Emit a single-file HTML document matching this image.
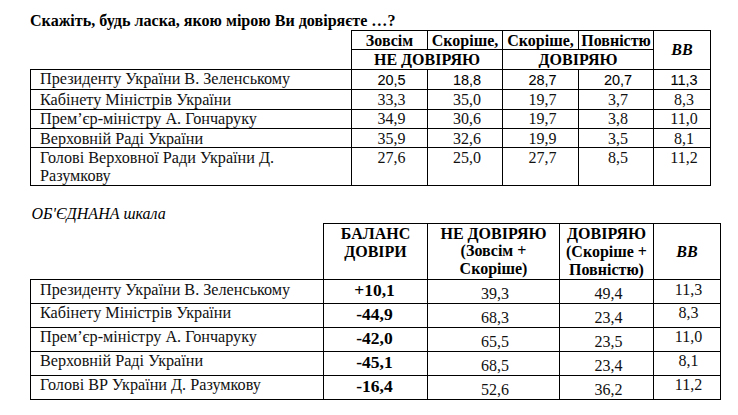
<!DOCTYPE html>
<html><head><meta charset="utf-8"><style>
html,body{margin:0;padding:0;background:#fff;width:738px;height:415px;overflow:hidden;position:relative}
.l{position:absolute;background:#000}
.t{position:absolute;white-space:nowrap;line-height:20px;height:20px;color:#000}
.c{text-align:center}
.s{font-family:"Liberation Serif",serif;font-size:16px}
.f{font-family:"Liberation Sans",sans-serif;font-size:14.5px;-webkit-text-stroke:0.06px #000}
.r{color:#111}
.b{font-weight:bold;color:#000}
.i{font-style:italic}
.clip{height:18px;overflow:hidden}
.big{font-size:17.5px}
.lb{font-size:16.2px;color:#111}
.tt{font-size:16.1px}
</style></head><body>
<div class="l" style="left:351px;top:30px;width:360px;height:1px"></div>
<div class="l" style="left:351px;top:49px;width:303px;height:1px"></div>
<div class="l" style="left:30px;top:69px;width:681px;height:1px"></div>
<div class="l" style="left:30px;top:89px;width:681px;height:1px"></div>
<div class="l" style="left:30px;top:109px;width:681px;height:1px"></div>
<div class="l" style="left:30px;top:128px;width:681px;height:1px"></div>
<div class="l" style="left:30px;top:147px;width:681px;height:1px"></div>
<div class="l" style="left:30px;top:185px;width:681px;height:1px"></div>
<div class="l" style="left:30px;top:69px;width:1px;height:117px"></div>
<div class="l" style="left:351px;top:30px;width:1px;height:156px"></div>
<div class="l" style="left:427px;top:30px;width:1px;height:20px"></div>
<div class="l" style="left:427px;top:69px;width:1px;height:117px"></div>
<div class="l" style="left:502px;top:30px;width:1px;height:156px"></div>
<div class="l" style="left:578px;top:30px;width:1px;height:20px"></div>
<div class="l" style="left:578px;top:69px;width:1px;height:117px"></div>
<div class="l" style="left:653px;top:30px;width:1px;height:156px"></div>
<div class="l" style="left:710px;top:30px;width:1px;height:156px"></div>
<div class="l" style="left:323px;top:223px;width:398px;height:1px"></div>
<div class="l" style="left:30px;top:279px;width:691px;height:1px"></div>
<div class="l" style="left:30px;top:303px;width:691px;height:1px"></div>
<div class="l" style="left:30px;top:327px;width:691px;height:1px"></div>
<div class="l" style="left:30px;top:351px;width:691px;height:1px"></div>
<div class="l" style="left:30px;top:375px;width:691px;height:1px"></div>
<div class="l" style="left:30px;top:399px;width:691px;height:1px"></div>
<div class="l" style="left:30px;top:279px;width:1px;height:121px"></div>
<div class="l" style="left:323px;top:223px;width:1px;height:177px"></div>
<div class="l" style="left:427px;top:223px;width:1px;height:177px"></div>
<div class="l" style="left:559px;top:223px;width:1px;height:177px"></div>
<div class="l" style="left:653px;top:223px;width:1px;height:177px"></div>
<div class="l" style="left:720px;top:223px;width:1px;height:177px"></div>
<div class="t s b tt" style="left:30px;top:11px">Скажіть, будь ласка, якою мірою Ви довіряєте …?</div>
<div class="t c s b" style="left:351px;top:31px;width:77px">Зовсім</div>
<div class="t c s b" style="left:427px;top:31px;width:76px">Скоріше,</div>
<div class="t c s b" style="left:502px;top:31px;width:77px">Скоріше,</div>
<div class="t c s b" style="left:578px;top:31px;width:76px">Повністю</div>
<div class="t c s b clip" style="left:351px;top:50px;width:152px">НЕ ДОВІРЯЮ</div>
<div class="t c s b clip" style="left:502px;top:50px;width:152px">ДОВІРЯЮ</div>
<div class="t c s b i" style="left:653px;top:40px;width:58px">ВВ</div>
<div class="t s lb" style="left:40px;top:69px">Президенту України В. Зеленському</div>
<div class="t c f" style="left:353px;top:70px;width:77px">20,5</div>
<div class="t c f" style="left:429px;top:70px;width:76px">18,8</div>
<div class="t c f" style="left:504px;top:70px;width:77px">28,7</div>
<div class="t c f" style="left:580px;top:70px;width:76px">20,7</div>
<div class="t c f" style="left:655px;top:70px;width:58px">11,3</div>
<div class="t s lb" style="left:40px;top:90px">Кабінету Міністрів України</div>
<div class="t c s r" style="left:353px;top:90px;width:77px">33,3</div>
<div class="t c s r" style="left:429px;top:90px;width:76px">35,0</div>
<div class="t c s r" style="left:504px;top:90px;width:77px">19,7</div>
<div class="t c s r" style="left:580px;top:90px;width:76px">3,7</div>
<div class="t c s r" style="left:655px;top:90px;width:58px">8,3</div>
<div class="t s lb" style="left:40px;top:109px">Прем’єр-міністру А. Гончаруку</div>
<div class="t c s r" style="left:353px;top:109px;width:77px">34,9</div>
<div class="t c s r" style="left:429px;top:109px;width:76px">30,6</div>
<div class="t c s r" style="left:504px;top:109px;width:77px">19,7</div>
<div class="t c s r" style="left:580px;top:109px;width:76px">3,8</div>
<div class="t c s r" style="left:655px;top:109px;width:58px">11,0</div>
<div class="t s lb" style="left:40px;top:129px">Верховній Раді України</div>
<div class="t c s r" style="left:353px;top:129px;width:77px">35,9</div>
<div class="t c s r" style="left:429px;top:129px;width:76px">32,6</div>
<div class="t c s r" style="left:504px;top:129px;width:77px">19,9</div>
<div class="t c s r" style="left:580px;top:129px;width:76px">3,5</div>
<div class="t c s r" style="left:655px;top:129px;width:58px">8,1</div>
<div class="t s lb" style="left:40px;top:148px">Голові Верховної Ради України Д.</div>
<div class="t s lb" style="left:40px;top:166px">Разумкову</div>
<div class="t c s r" style="left:353px;top:148px;width:77px">27,6</div>
<div class="t c s r" style="left:429px;top:148px;width:76px">25,0</div>
<div class="t c s r" style="left:504px;top:148px;width:77px">27,7</div>
<div class="t c s r" style="left:580px;top:148px;width:76px">8,5</div>
<div class="t c s r" style="left:655px;top:148px;width:58px">11,2</div>
<div class="t s i" style="left:31.5px;top:204px">ОБ'ЄДНАНА шкала</div>
<div class="t c s b" style="left:323px;top:224px;width:105px">БАЛАНС</div>
<div class="t c s b" style="left:323px;top:242px;width:105px">ДОВІРИ</div>
<div class="t c s b" style="left:427px;top:224px;width:133px">НЕ ДОВІРЯЮ</div>
<div class="t c s b" style="left:427px;top:241px;width:133px">(Зовсім +</div>
<div class="t c s b" style="left:427px;top:259px;width:133px">Скоріше)</div>
<div class="t c s b" style="left:559px;top:224px;width:95px">ДОВІРЯЮ</div>
<div class="t c s b" style="left:559px;top:242px;width:95px">(Скоріше +</div>
<div class="t c s b" style="left:559px;top:260px;width:95px">Повністю)</div>
<div class="t c s b i" style="left:653px;top:242px;width:68px">ВВ</div>
<div class="t s lb" style="left:40px;top:280px">Президенту України В. Зеленському</div>
<div class="t c s b big" style="left:322px;top:280px;width:105px">+10,1</div>
<div class="t c s r" style="left:428.5px;top:284px;width:133px">39,3</div>
<div class="t c s r" style="left:561px;top:284px;width:95px">49,4</div>
<div class="t c s r" style="left:654.5px;top:280px;width:68px">11,3</div>
<div class="t s lb" style="left:40px;top:303px">Кабінету Міністрів України</div>
<div class="t c s b big" style="left:322px;top:304px;width:105px">-44,9</div>
<div class="t c s r" style="left:428.5px;top:308px;width:133px">68,3</div>
<div class="t c s r" style="left:561px;top:308px;width:95px">23,4</div>
<div class="t c s r" style="left:654.5px;top:303px;width:68px">8,3</div>
<div class="t s lb" style="left:40px;top:327px">Прем’єр-міністру А. Гончаруку</div>
<div class="t c s b big" style="left:322px;top:328px;width:105px">-42,0</div>
<div class="t c s r" style="left:428.5px;top:332px;width:133px">65,5</div>
<div class="t c s r" style="left:561px;top:332px;width:95px">23,5</div>
<div class="t c s r" style="left:654.5px;top:327px;width:68px">11,0</div>
<div class="t s lb" style="left:40px;top:351px">Верховній Раді України</div>
<div class="t c s b big" style="left:322px;top:352px;width:105px">-45,1</div>
<div class="t c s r" style="left:428.5px;top:356px;width:133px">68,5</div>
<div class="t c s r" style="left:561px;top:356px;width:95px">23,4</div>
<div class="t c s r" style="left:654.5px;top:351px;width:68px">8,1</div>
<div class="t s lb" style="left:40px;top:375px">Голові ВР України Д. Разумкову</div>
<div class="t c s b big" style="left:322px;top:376px;width:105px">-16,4</div>
<div class="t c s r" style="left:428.5px;top:380px;width:133px">52,6</div>
<div class="t c s r" style="left:561px;top:380px;width:95px">36,2</div>
<div class="t c s r" style="left:654.5px;top:375px;width:68px">11,2</div>
</body></html>
